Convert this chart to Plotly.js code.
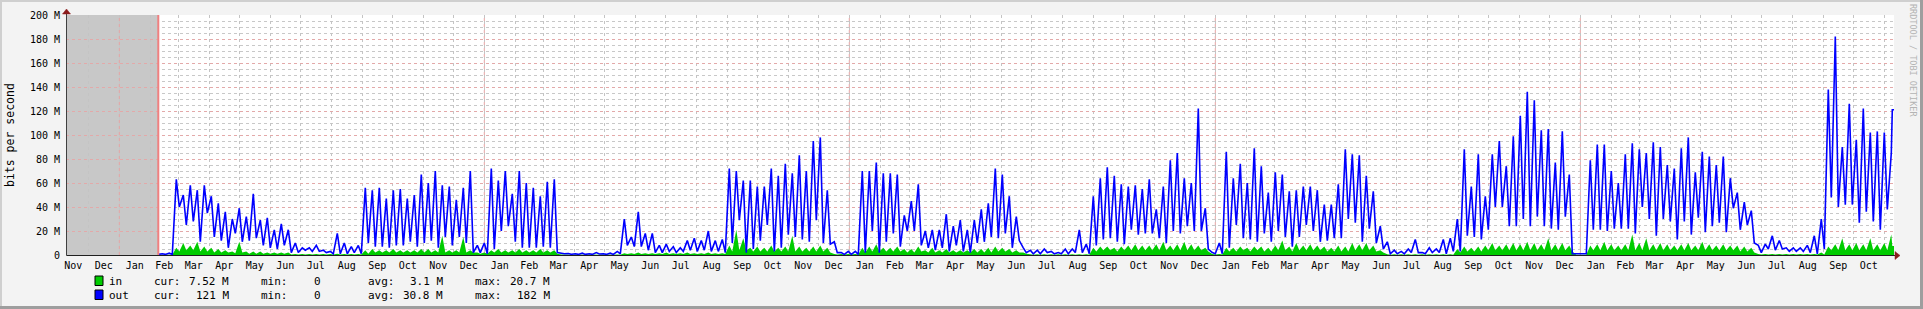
<!DOCTYPE html>
<html>
<head>
<meta charset="utf-8">
<script src="https://cdn.plot.ly/plotly-3.0.1.min.js"></script>
<style>
html,body{margin:0;padding:0;background:#f3f3f3;}
#chart{width:1923px;height:309px;}
</style>
</head>
<body>
<div id="chart"></div>
<script>
// ---------------- DATA (values in M bits/s; per week one weekday peak and the following weekend low) ----------------
const firstWeekMonday = '2010-02-08';
const dataStart = '2010-02-09';
const xRange = ['2009-11-08 16:48', '2014-11-10 16:48'];
const yearStarts = ['2010-01-01', '2011-01-01', '2012-01-01', '2013-01-01', '2014-01-01'];

const outFirst = 0.5;
const outPeak = [
  1, 1.5, 63, 50, 58, 54, 58, 49, 43, 36,
  30, 39, 32, 51, 29, 31, 21, 26, 21, 10,
  6, 6, 8, 4, 3, 18, 10, 7, 8, 56,
  54, 56, 47, 54, 55, 47, 50, 67, 60, 70,
  58, 57, 46, 56, 70, 8, 10, 72, 62, 70,
  51, 70, 60, 56, 49, 61, 63, 1.5, 1.2, 1,
  1.5, 1, 2, 1, 1.5, 3, 30, 15, 36, 18,
  18, 8, 9, 7, 6, 12, 14, 12, 20, 12,
  13, 72, 70, 62, 62, 57, 57, 72, 66, 76,
  68, 83, 70, 95, 98, 54, 11, 2, 3, 3,
  70, 70, 77, 68, 68, 67, 33, 45, 59, 20,
  21, 21, 34, 24, 29, 21, 29, 38, 43, 72,
  67, 49, 32, 6, 4, 4, 5, 3, 2, 5,
  5, 21, 9, 49, 64, 73, 66, 59, 57, 58,
  55, 63, 38, 57, 79, 85, 64, 60, 122, 39,
  2, 10, 86, 64, 76, 60, 89, 74, 52, 69,
  67, 53, 54, 57, 57, 54, 42, 42, 59, 88,
  84, 83, 66, 53, 24, 11, 4, 3, 5, 13,
  2, 6, 5, 13, 14, 30, 88, 57, 84, 49,
  84, 95, 74, 99, 116, 136, 129, 104, 105, 77,
  103, 67, 1, 1, 79, 92, 92, 70, 60, 84,
  93, 88, 85, 94, 90, 75, 72, 89, 98, 69,
  86, 82, 75, 82, 64, 52, 44, 37, 8, 9,
  16, 12, 6, 6, 6, 8, 16, 30, 138, 182,
  90, 126, 96, 122, 102, 103, 102, 85
];
const outTrough = [
  0.5, 0.5, 40, 25, 28, 11, 35, 15, 12, 6,
  18, 11, 12, 14, 8, 6, 5, 8, 2, 2,
  4, 3, 3, 2, 1, 1, 1, 2, 1, 10,
  7, 7, 6, 8, 8, 11, 7, 10, 12, 6,
  15, 8, 15, 10, 2, 2, 1, 5, 20, 24,
  11, 6, 6, 6, 7, 6, 2, 1, 0.6, 0.5,
  0.5, 0.5, 0.8, 0.5, 0.5, 1, 8, 7, 7, 4,
  2, 2, 3, 2, 3, 4, 3, 4, 3, 3,
  2, 10, 29, 2, 5, 12, 25, 3, 6, 17,
  15, 13, 11, 29, 10, 9, 2, 0.5, 0.5, 0.5,
  2, 20, 2, 11, 18, 7, 20, 20, 8, 6,
  4, 6, 3, 8, 3, 2, 10, 11, 15, 14,
  18, 6, 12, 2, 1, 1, 2, 1, 1, 1,
  2, 2, 1, 8, 13, 14, 11, 9, 21, 17,
  18, 18, 14, 10, 20, 18, 24, 20, 20, 5,
  1, 1, 6, 25, 14, 13, 11, 18, 11, 20,
  15, 7, 15, 25, 20, 11, 12, 14, 14, 30,
  27, 11, 22, 10, 5, 1, 1, 1, 2, 2,
  1, 2, 2, 1, 3, 3, 16, 15, 13, 21,
  40, 40, 24, 24, 30, 24, 32, 24, 22, 21,
  32, 1, 1, 1, 21, 21, 20, 22, 22, 22,
  18, 40, 30, 16, 30, 28, 13, 28, 17, 31,
  19, 24, 27, 19, 39, 21, 25, 10, 2, 5,
  4, 5, 3, 3, 3, 2, 1, 5, 48, 40,
  42, 42, 27, 36, 28, 21, 38
];
const inFirst = 0.2;
const inPeak = [
  0.3, 0.3, 6, 10, 8, 11, 7, 6, 5, 4,
  3, 11, 3, 3, 3, 2, 2, 2, 2, 0.8,
  0.8, 0.8, 0.8, 0.8, 0.8, 1, 0.8, 0.8, 0.8, 4,
  5, 4, 4, 5, 4, 4, 4, 5, 5, 4,
  16, 4, 4, 15, 4, 2, 2, 4, 5, 4,
  4, 5, 4, 4, 5, 4, 4, 0.4, 0.4, 0.4,
  0.4, 0.4, 0.4, 0.4, 0.4, 0.4, 1.5, 1.5, 2, 1.5,
  1.5, 1.5, 2, 1.5, 1.5, 2, 1.5, 1.5, 2, 1.5,
  1.5, 8, 21, 14, 6, 7, 6, 8, 6, 7,
  16, 7, 6, 7, 8, 6, 0.8, 0.8, 0.8, 0.8,
  6, 7, 9, 6, 6, 7, 5, 5, 7, 4,
  6, 4, 5, 4, 4, 4, 5, 5, 6, 7,
  6, 5, 4, 2, 0.6, 0.6, 0.6, 0.6, 0.6, 0.6,
  0.6, 0.6, 0.6, 6, 7, 7, 6, 7, 8, 9,
  8, 8, 9, 11, 8, 9, 11, 9, 8, 6,
  0.8, 0.8, 6, 6, 7, 6, 7, 7, 6, 8,
  12, 7, 10, 8, 9, 8, 7, 6, 8, 7,
  10, 9, 10, 8, 4, 0.6, 0.6, 0.6, 0.6, 0.6,
  0.6, 0.6, 0.6, 0.6, 0.6, 5, 7, 6, 7, 8,
  10, 8, 9, 10, 9, 11, 10, 9, 14, 9,
  10, 8, 0.2, 0.2, 8, 9, 11, 9, 8, 9,
  17, 10, 14, 9, 10, 9, 8, 9, 10, 8,
  11, 9, 8, 9, 8, 8, 7, 6, 0.8, 0.8,
  0.8, 0.8, 0.8, 0.8, 0.8, 0.8, 0.8, 2, 7, 9,
  14, 9, 10, 9, 14, 9, 10, 17
];
const inTrough = [
  0.2, 0.2, 3, 4, 4, 3, 3, 2, 2, 2,
  1.5, 2, 1, 1, 1, 1, 1, 1, 0.5, 0.4,
  0.4, 0.4, 0.4, 0.4, 0.4, 0.4, 0.4, 0.4, 0.4, 1,
  2, 2, 2, 2, 2, 2, 2, 2, 2, 2,
  2, 2, 2, 2, 2, 1, 1, 2, 2, 2,
  2, 2, 2, 2, 2, 2, 1, 0.2, 0.2, 0.2,
  0.2, 0.2, 0.2, 0.2, 0.2, 0.2, 0.8, 0.8, 0.8, 0.8,
  0.8, 0.8, 0.8, 0.8, 0.8, 0.8, 0.8, 0.8, 0.8, 0.8,
  0.8, 3, 4, 4, 3, 3, 3, 3, 3, 3,
  3, 3, 3, 3, 3, 2, 0.4, 0.4, 0.4, 0.4,
  2, 3, 3, 3, 3, 3, 2, 2, 3, 2,
  2, 2, 2, 2, 2, 2, 2, 2, 2, 3,
  3, 2, 2, 1, 0.3, 0.3, 0.3, 0.3, 0.3, 0.3,
  0.3, 0.3, 0.3, 3, 4, 4, 3, 4, 4, 4,
  4, 4, 4, 4, 4, 4, 4, 4, 4, 3,
  0.4, 0.4, 3, 3, 4, 3, 4, 3, 3, 4,
  4, 3, 4, 4, 4, 4, 3, 3, 3, 3,
  4, 4, 4, 3, 2, 0.3, 0.3, 0.3, 0.3, 0.3,
  0.3, 0.3, 0.3, 0.3, 0.3, 2, 3, 3, 3, 4,
  4, 4, 4, 4, 4, 4, 4, 4, 4, 4,
  4, 3, 0.2, 0.2, 4, 4, 4, 4, 4, 4,
  4, 4, 4, 4, 4, 4, 4, 4, 4, 4,
  4, 4, 4, 4, 4, 3, 3, 2, 0.4, 0.4,
  0.4, 0.4, 0.4, 0.4, 0.4, 0.4, 0.4, 0.4, 4, 4,
  4, 4, 4, 4, 4, 4, 4
];
const lastDay = '2014-11-09';
const outLast = 121;
const inLast = 7.52;

const yTickValues = [0, 20, 40, 60, 80, 100, 120, 140, 160, 180, 200];
const yTickLabels = ['0', '20 M', '40 M', '60 M', '80 M', '100 M', '120 M', '140 M', '160 M', '180 M', '200 M'];

const legendNames = ['in', 'out'];
const legendColors = ['#00cc00', '#0000ff'];
const legendCur = ['7.52 M', '121 M'];
const legendMin = ['0', '0'];
const legendAvg = ['3.1 M', '30.8 M'];
const legendMax = ['20.7 M', '182 M'];

// ---------------- BUILD ----------------
const M = 1e6;
function dayOffset(base, n) {
  const p = base.split('-').map(Number);
  const d = new Date(Date.UTC(p[0], p[1] - 1, p[2]));
  d.setUTCDate(d.getUTCDate() + n);
  return d.toISOString().slice(0, 10);
}
// weekday peak placed on day 5 of its week, weekend low on day 8 (start of the next week)
function weekly(first, peak, trough, last) {
  const xs = [dataStart], ys = [first * M];
  for (let k = 0; k < peak.length; k++) {
    xs.push(dayOffset(firstWeekMonday, 7 * k + 5)); ys.push(peak[k] * M);
    if (k < trough.length) { xs.push(dayOffset(firstWeekMonday, 7 * k + 8)); ys.push(trough[k] * M); }
  }
  xs.push(lastDay); ys.push(last * M);
  xs.push(xRange[1]); ys.push(last * M);
  return {xs, ys};
}
const outS = weekly(outFirst, outPeak, outTrough, outLast);
const inS = weekly(inFirst, inPeak, inTrough, inLast);

const mono = 'DejaVu Sans Mono, monospace';
const L = 66, W = 1828, T = 15, H = 240;
const PX = px => (px - L) / W;
const PY = py => (T + H - py) / H;

const traces = [
  {x: inS.xs, y: inS.ys, type: 'scatter', mode: 'lines', line: {shape: 'linear', width: 0, color: '#00cc00'},
   fill: 'tozeroy', fillcolor: '#00cc00', hoverinfo: 'skip', showlegend: false},
  {x: outS.xs, y: outS.ys, type: 'scatter', mode: 'lines', line: {shape: 'linear', width: 1.6, color: '#0000ff'},
   hoverinfo: 'skip', showlegend: false}
];

const shapes = [];
shapes.push({type: 'rect', xref: 'x', yref: 'paper', x0: xRange[0], x1: dataStart, y0: 0, y1: 1,
  fillcolor: '#c8c8c8', line: {width: 0}, layer: 'below'});
yearStarts.forEach(d => shapes.push({type: 'line', xref: 'x', yref: 'paper', x0: d, x1: d, y0: 0, y1: 1,
  line: {color: '#e6a3a3', width: 1, dash: 'dot'}, layer: 'between'}));
shapes.push({type: 'line', xref: 'x', yref: 'paper', x0: dataStart, x1: dataStart, y0: 0, y1: 1,
  line: {color: '#f08080', width: 2}, layer: 'above'});
shapes.push({type: 'line', xref: 'paper', yref: 'paper', x0: PX(66.5), x1: PX(1896), y0: PY(255.5), y1: PY(255.5),
  line: {color: '#202020', width: 1}, layer: 'above'});
shapes.push({type: 'line', xref: 'paper', yref: 'paper', x0: PX(66.5), x1: PX(66.5), y0: PY(255.5), y1: PY(11),
  line: {color: '#404040', width: 1}, layer: 'above'});
shapes.push({type: 'path', xref: 'paper', yref: 'paper',
  path: `M ${PX(1895)} ${PY(251.5)} L ${PX(1895)} ${PY(259.5)} L ${PX(1900)} ${PY(255.5)} Z`,
  fillcolor: '#8b1c1c', line: {color: '#8b1c1c', width: 0.5}, layer: 'above'});
shapes.push({type: 'path', xref: 'paper', yref: 'paper',
  path: `M ${PX(62.5)} ${PY(14)} L ${PX(70.5)} ${PY(14)} L ${PX(66.5)} ${PY(9)} Z`,
  fillcolor: '#8b1c1c', line: {color: '#8b1c1c', width: 0.5}, layer: 'above'});
shapes.push({type: 'rect', xref: 'paper', yref: 'paper', x0: PX(0), x1: PX(1923), y0: PY(0), y1: PY(2),
  fillcolor: '#cfcfcf', line: {width: 0}, layer: 'above'});
shapes.push({type: 'rect', xref: 'paper', yref: 'paper', x0: PX(0), x1: PX(2), y0: PY(0), y1: PY(309),
  fillcolor: '#cfcfcf', line: {width: 0}, layer: 'above'});
shapes.push({type: 'rect', xref: 'paper', yref: 'paper', x0: PX(0), x1: PX(1923), y0: PY(306), y1: PY(309),
  fillcolor: '#9e9e9e', line: {width: 0}, layer: 'above'});
shapes.push({type: 'rect', xref: 'paper', yref: 'paper', x0: PX(1920), x1: PX(1923), y0: PY(0), y1: PY(309),
  fillcolor: '#9e9e9e', line: {width: 0}, layer: 'above'});

const annotations = [];
function txt(text, px, py, anchor, size, extra) {
  annotations.push(Object.assign({text: text, xref: 'paper', yref: 'paper', x: PX(px), y: PY(py),
    xanchor: anchor, yanchor: 'middle', showarrow: false, borderpad: 0,
    font: {family: mono, size: size, color: '#000000'}}, extra || {}));
}
legendNames.forEach((name, i) => {
  const cy = 281 + 14 * i;
  shapes.push({type: 'rect', xref: 'paper', yref: 'paper', x0: PX(95), x1: PX(103), y0: PY(cy - 5), y1: PY(cy + 4.5),
    fillcolor: legendColors[i], line: {color: '#000000', width: 1}, layer: 'above'});
  txt(name, 108, cy, 'left', 11);
  txt('cur:', 152.5, cy, 'left', 11);
  txt(legendCur[i], 230, cy, 'right', 11);
  txt('min:', 259.5, cy, 'left', 11);
  txt(legendMin[i], 321.5, cy, 'right', 11);
  txt('avg:', 366.5, cy, 'left', 11);
  txt(legendAvg[i], 443.5, cy, 'right', 11);
  txt('max:', 473.5, cy, 'left', 11);
  txt(legendMax[i], 550.5, cy, 'right', 11);
});
txt('bits per second', 10, 135, 'center', 11.5, {textangle: -90});
txt('RRDTOOL / TOBI OETIKER', 1913, 60, 'center', 8.5, {textangle: 90, font: {family: mono, size: 8.5, color: '#b4b4b4'}});

const layout = {
  width: 1923, height: 309,
  margin: {l: L, r: 1923 - L - W, t: T, b: 309 - T - H, pad: 0},
  paper_bgcolor: '#f3f3f3', plot_bgcolor: '#ffffff',
  showlegend: false,
  xaxis: {
    type: 'date', range: xRange, tick0: '2009-11-01', dtick: 'M1', tickformat: '%b', ticklabelmode: 'period',
    showgrid: true, gridcolor: '#c4c4c4', griddash: 'dot', gridwidth: 1,
    showline: false, zeroline: false, ticks: '', ticklabelstandoff: 3,
    tickfont: {family: mono, size: 10, color: '#000000'}, fixedrange: true
  },
  yaxis: {
    range: [0, 200 * M], tickmode: 'array', tickvals: yTickValues.map(v => v * M), ticktext: yTickLabels,
    showgrid: true, gridcolor: '#e3a9a9', griddash: 'dot', gridwidth: 1,
    minor: {tickmode: 'linear', tick0: 0, dtick: 5 * M, showgrid: true, gridcolor: '#c8c8c8', griddash: 'dot', gridwidth: 1, ticks: ''},
    showline: false, zeroline: false, ticks: '', ticklabelstandoff: 5,
    tickfont: {family: mono, size: 10, color: '#000000'}, fixedrange: true
  },
  shapes: shapes,
  annotations: annotations
};

Plotly.newPlot('chart', traces, layout, {displayModeBar: false, staticPlot: true});
</script>
</body>
</html>
